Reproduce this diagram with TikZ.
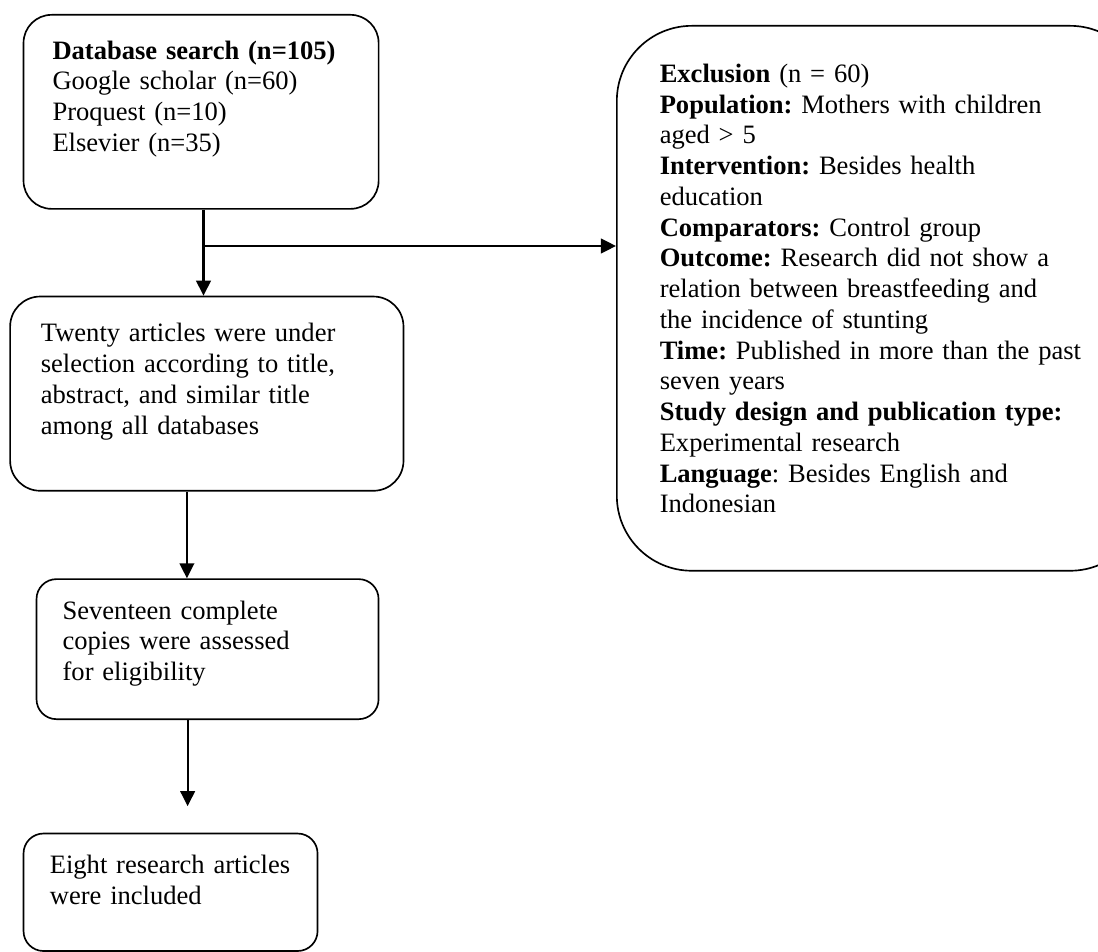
\documentclass[tikz,border=0pt]{standalone}
\usepackage{fontspec}
\setmainfont{Liberation Serif}
\usetikzlibrary{arrows.meta}
\begin{document}
\begin{tikzpicture}[x=0.452pt, y=-0.452pt,
  box/.style={draw, line width=0.75pt, anchor=north west, align=left, inner ysep=0pt,
    font=\fontsize{12}{13.9}\selectfont\frenchspacing},
  arrow/.style={line width=1pt, -{Triangle[length=6.8pt, width=6.6pt]}}]
  \useasboundingbox (0,0) rectangle (1098,952);
  % Boxes
  \node[box, rounded corners=12.7pt, inner xsep=13.1pt, text width=134.3pt,
    text height=20pt, text depth=67.7pt] (db) at (22.7,14)
    {\textbf{Database search (n=105)}\\Google scholar (n=60)\\Proquest (n=10)\\Elsevier (n=35)};
  \node[box, rounded corners=13.6pt, inner xsep=13.9pt, text width=150pt,
    text height=20.5pt, text depth=67.3pt] (select) at (9.3,295.7)
    {Twenty articles were under\\selection according to title,\\abstract, and similar title\\among all databases};
  \node[box, rounded corners=33.9pt, inner xsep=19.4pt, text width=200pt,
    text height=25.6pt, text depth=220.7pt] (excl) at (616,25)
    {\textbf{Exclusion} (n = 60)\\
     \textbf{Population:} Mothers with children\\
     aged > 5\\
     \textbf{Intervention:} Besides health\\
     education\\
     \textbf{Comparators:} Control group\\
     \textbf{Outcome:} Research did not show a\\
     relation between breastfeeding and\\
     the incidence of stunting\\
     \textbf{Time:} Published in more than the past\\
     seven years\\
     \textbf{Study design and publication type:}\\
     Experimental research\\
     \textbf{Language}: Besides English and\\
     Indonesian};
  \node[box, rounded corners=9pt, inner xsep=11.8pt, text width=131pt,
    text height=18.1pt, text depth=45.2pt] (copies) at (35.7,578.3)
    {Seventeen complete\\copies were assessed\\for eligibility};
  \node[box, rounded corners=9pt, inner xsep=11.9pt, text width=109.1pt,
    text height=18.1pt, text depth=35pt] (incl) at (22.7,832.7)
    {Eight research articles\\were included};
  % Arrows
  \coordinate (split) at (203.5,246);
  \draw[arrow] (db.south -| split) -- (split |- select.north);
  \draw[arrow] (split) -- (split -| excl.west);
  \draw[arrow] ([xshift=-9pt]select.south) -- ([xshift=-9pt]select.south |- copies.north);
  \draw[arrow, shorten >=12pt] ([xshift=-9pt]copies.south) -- ([xshift=-9pt]copies.south |- incl.north);
\end{tikzpicture}
\end{document}
